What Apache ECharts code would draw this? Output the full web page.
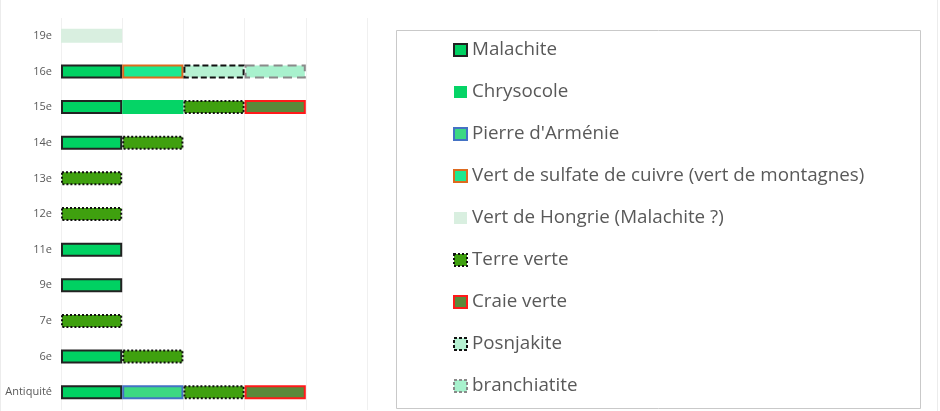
<!DOCTYPE html>
<html>
<head>
<meta charset="utf-8">
<title>Pigments verts</title>
<script src="https://cdn.jsdelivr.net/npm/echarts@6/dist/echarts.min.js"></script>
<style>
    html, body { margin: 0; padding: 0; background: #fff; }
    #c1 { width: 940px; height: 411px; }
</style>
</head>
<body>
<div id="c1"></div>
<script>
// siècles (de bas en haut)
var categories = ['Antiquité', '6e', '7e', '9e', '11e', '12e', '13e', '14e', '15e', '16e', '19e'];
// un segment = une attestation
var malachite     = [1, 1, '-', 1, 1, '-', '-', 1, 1, 1, '-'];
var chrysocole    = ['-', '-', '-', '-', '-', '-', '-', '-', 1, '-', '-'];
var pierreArmenie = [1, '-', '-', '-', '-', '-', '-', '-', '-', '-', '-'];
var vertSulfate   = ['-', '-', '-', '-', '-', '-', '-', '-', '-', 1, '-'];
var vertHongrie   = ['-', '-', '-', '-', '-', '-', '-', '-', '-', '-', 1];
var terreVerte    = [1, 1, 1, '-', '-', 1, 1, 1, 1, '-', '-'];
var craieVerte    = [1, '-', '-', '-', '-', '-', '-', '-', 1, '-', '-'];
var posnjakite    = ['-', '-', '-', '-', '-', '-', '-', '-', '-', 1, '-'];
var branchiatite  = ['-', '-', '-', '-', '-', '-', '-', '-', '-', 1, '-'];
var xTicks = [0, 1, 2, 3, 4, 5];

var FONT = '"Open Sans", "Noto Sans", sans-serif';

// styles des séries
var styles = [
    { name: 'Malachite', data: malachite, fill: '#00d162', border: '#222222' },
    { name: 'Chrysocole', data: chrysocole, fill: '#05d466' },
    { name: "Pierre d'Arménie", data: pierreArmenie, fill: '#3dd882', border: '#4472c4' },
    { name: 'Vert de sulfate de cuivre (vert de montagnes)', data: vertSulfate, fill: '#1de890', border: '#dd6a1f' },
    { name: 'Vert de Hongrie (Malachite ?)', data: vertHongrie, fill: '#d9efe0' },
    { name: 'Terre verte', data: terreVerte, fill: '#3fa00f', border: '#111111', type: 'dotted' },
    { name: 'Craie verte', data: craieVerte, fill: '#5b893a', border: '#ff1a1a' },
    { name: 'Posnjakite', data: posnjakite, fill: '#b6f1d2', border: '#111111', type: [6, 3] },
    { name: 'branchiatite', data: branchiatite, fill: '#a8f1cd', border: '#8a8a8a', type: [9, 5] }
];

// style d'un segment
function itemStyleOf(s, legend) {
    return {
        color: s.fill,
        borderColor: s.border || s.fill,
        borderWidth: s.border ? 2 : 0,
        borderType: s.type ? (legend && s.type !== 'dotted' ? [3, 2] : s.type) : 'solid'
    };
}

// séries empilées
var series = styles.map(function (s) {
    return {
        name: s.name,
        type: 'bar',
        stack: 'total',
        barWidth: 14,
        data: s.data,
        itemStyle: itemStyleOf(s)
    };
});

// entrées de la légende
var legendData = styles.map(function (s) {
    return { name: s.name, icon: 'rect', itemStyle: itemStyleOf(s, true) };
});

var chart = echarts.init(document.getElementById('c1'), null, { renderer: 'canvas' });
chart.setOption({
    animation: false,
    backgroundColor: '#fff',
    grid: { left: 61, right: 573, top: 18, bottom: 1 },
    xAxis: {
        type: 'value',
        min: xTicks[0],
        max: xTicks[xTicks.length - 1],
        interval: 1,
        axisLabel: { show: false },
        axisLine: { show: false },
        axisTick: { show: false },
        splitLine: { lineStyle: { color: '#f0f0f0', width: 1 } }
    },
    yAxis: {
        type: 'category',
        data: categories,
        axisLine: { show: false },
        axisTick: { show: false },
        axisLabel: { color: '#595959', fontSize: 11, fontFamily: FONT, margin: 9 }
    },
    legend: {
        orient: 'vertical',
        left: 453,
        top: 40,
        padding: 0,
        itemWidth: 13,
        itemHeight: 12,
        itemGap: 22,
        selectedMode: false,
        data: legendData,
        textStyle: { color: '#595959', fontSize: 18.8, fontFamily: FONT, lineHeight: 20 }
    },
    graphic: [
        // cadre de la légende
        { type: 'rect', left: 394, top: 28, shape: { width: 524, height: 378 },
          style: { fill: null, stroke: '#c9c9c9', lineWidth: 1 }, silent: true },
        // bords de la zone du graphique
        { type: 'line', shape: { x1: 0.5, y1: 0, x2: 0.5, y2: 411 },
          style: { stroke: '#ececec', lineWidth: 1 }, silent: true },
        { type: 'line', shape: { x1: 937.5, y1: 0, x2: 937.5, y2: 411 },
          style: { stroke: '#ececec', lineWidth: 1 }, silent: true }
    ],
    series: series
});
</script>
</body>
</html>
